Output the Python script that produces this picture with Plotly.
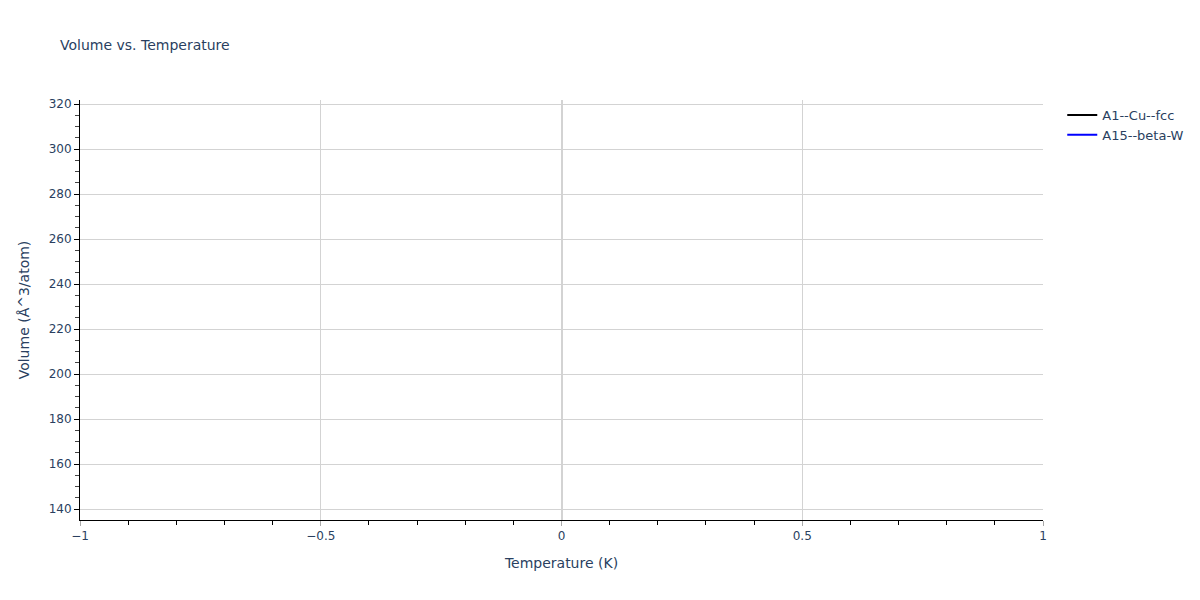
import plotly.graph_objects as go

# each structure only has a single state point at T = 0 K
structures = ["A1--Cu--fcc", "A15--beta-W"]
temperatures = [[0.0], [0.0]]
volumes = [[312.5], [144.5]]
line_colors = ["black", "blue"]


def build_figure():
    fig = go.Figure()
    for name, temps, vols, color in zip(structures, temperatures, volumes, line_colors):
        fig.add_trace(
            go.Scatter(x=temps, y=vols, mode="lines", name=name, line=dict(color=color, width=2))
        )

    # page body adds an 8px offset, margins below compensate for it
    fig.update_layout(
        width=1200,
        height=600,
        margin=dict(l=72, r=165, t=92, b=88),
        title=dict(text="Volume vs. Temperature", font=dict(size=14), x=0.0433, y=0.938, yanchor="middle"),
        font=dict(family="DejaVu Sans", size=12, color="#2a3f5f"),
        legend=dict(font=dict(size=13)),
        plot_bgcolor="white",
        paper_bgcolor="white",
        xaxis_title=dict(text="Temperature (K)", font=dict(size=14)),
        yaxis_title=dict(text="Volume (Å^3/atom)", font=dict(size=14)),
    )
    fig.update_xaxes(
        showline=True,
        linecolor="black",
        ticks="outside",
        tickcolor="darkgray",
        ticklen=5,
        gridcolor="lightgray",
        zerolinecolor="lightgray",
        zerolinewidth=2,
        minor=dict(ticks="outside", ticklen=4, tickcolor="black"),
    )
    fig.update_yaxes(
        showline=True,
        linecolor="black",
        ticks="outside",
        tickcolor="black",
        ticklen=5,
        gridcolor="lightgray",
        zeroline=False,
        minor=dict(ticks="outside", ticklen=4, tickcolor="#444"),
    )
    return fig


def main():
    fig = build_figure()
    fig.write_html("out.html")


if __name__ == "__main__":
    main()
